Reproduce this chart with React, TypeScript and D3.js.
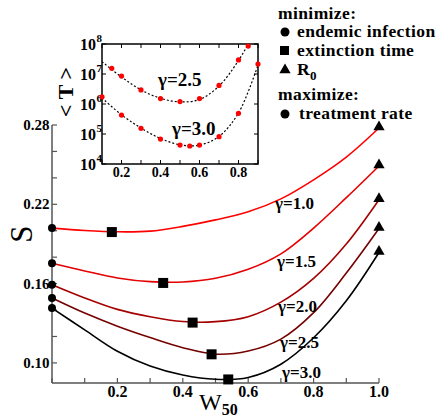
import React from "react";
import * as d3 from "d3";

// main panel: S versus W50 for several gamma
const W_GRID = [0, 0.1, 0.2, 0.3, 0.4, 0.5, 0.6, 0.7, 0.8, 0.9, 1.0];
const GAMMAS = ["1.0", "1.5", "2.0", "2.5", "3.0"];
const S_G10 = [0.202, 0.2002, 0.1992, 0.1997, 0.2033, 0.2082, 0.2143, 0.2241, 0.2385, 0.2557, 0.2777];
const S_G15 = [0.1754, 0.1696, 0.1643, 0.1615, 0.1612, 0.164, 0.1708, 0.1825, 0.202, 0.225, 0.249];
const S_G20 = [0.1592, 0.1492, 0.1405, 0.1349, 0.1313, 0.1312, 0.135, 0.146, 0.164, 0.19, 0.2235];
const S_G25 = [0.1491, 0.1377, 0.1278, 0.1192, 0.1115, 0.1066, 0.109, 0.118, 0.138, 0.168, 0.2017];
const S_G30 = [0.1415, 0.125, 0.1088, 0.0976, 0.0908, 0.0876, 0.089, 0.099, 0.119, 0.147, 0.1835];
const CURVE_COLORS = ["#ff0000", "#e60000", "#a50000", "#750000", "#000000"];
const MIN_W = [0.183, 0.34, 0.43, 0.488, 0.539];
const MIN_S = [0.199, 0.1605, 0.1305, 0.1065, 0.0875];

// inset: <T> versus W50 (log10 values)
const DOT_W_25 = [0.15, 0.2, 0.3, 0.4, 0.5, 0.6, 0.7, 0.8, 0.85];
const DOT_T_25 = [7.19, 6.93, 6.47, 6.18, 6.08, 6.18, 6.62, 7.47, 7.93];
const DOT_W_30 = [0.1, 0.2, 0.3, 0.4, 0.5, 0.55, 0.6, 0.7, 0.8, 0.9];
const DOT_T_30 = [6.24, 5.63, 5.19, 4.83, 4.63, 4.6, 4.63, 4.91, 5.69, 7.33];
const FIT_W = [0.1, 0.2, 0.3, 0.4, 0.5, 0.6, 0.7, 0.8, 0.9];
const FIT_T_25 = [7.41, 6.9, 6.47, 6.19, 6.07, 6.15, 6.6, 7.45, 8.6];
const FIT_T_30 = [6.2, 5.64, 5.2, 4.85, 4.64, 4.63, 4.92, 5.7, 7.3];

const X_TICK_LABELS = ["0.2", "0.4", "0.6", "0.8", "1.0"];
const Y_TICK_LABELS = ["0.10", "0.16", "0.22", "0.28"];
const INSET_X_LABELS = ["0.2", "0.4", "0.6", "0.8"];
const INSET_EXPONENTS = [4, 5, 6, 7, 8];

const FONT = "Liberation Serif, DejaVu Serif, serif";

export default function App() {
  const x = d3.scaleLinear().domain([0, 1]).range([52, 379]);
  const y = d3.scaleLinear().domain([0.0848, 0.28]).range([383, 125]);

  const ix = d3.scaleLinear().domain([0.1, 0.9]).range([102, 258]);
  const iy = d3.scaleLog().domain([1e4, 1e8]).range([164, 44]);

  const series = [S_G10, S_G15, S_G20, S_G25, S_G30];
  const line = d3
    .line<number>()
    .x((_, i) => x(W_GRID[i]))
    .y((d) => y(d))
    .curve(d3.curveCatmullRom);

  const insetLine = (ws: number[]) =>
    d3
      .line<number>()
      .x((_, i) => ix(ws[i]))
      .y((d) => iy(Math.pow(10, d)))
      .curve(d3.curveCatmullRom);

  const xTicks = d3.range(0, 11).map((i) => i / 10);
  const yTicks = d3.range(0, 10).map((i) => 0.1 + i * 0.02);
  const ixTicks = d3.range(1, 10).map((i) => i / 10);

  const labelY = [209, 266.5, 311.5, 348, 378];
  const labelX = [275, 277, 278, 280, 282];

  const tri = d3.symbol().type(d3.symbolTriangle).size(55)();
  const axisColor = "#555";

  return (
    <svg
      width={445}
      height={419}
      style={{ position: "absolute", left: 0, top: 0, fontFamily: FONT }}
    >
      {/* main axes */}
      <line x1={52} x2={52} y1={125} y2={383} stroke={axisColor} strokeWidth={1.5} />
      <line x1={52} x2={379} y1={383} y2={383} stroke={axisColor} strokeWidth={1.5} />
      {yTicks.map((t) => (
        <line key={"yt" + t} x1={52} x2={57} y1={y(t)} y2={y(t)} stroke={axisColor} strokeWidth={1.2} />
      ))}
      {xTicks.map((t) => (
        <line key={"xt" + t} x1={x(t)} x2={x(t)} y1={383} y2={378} stroke={axisColor} strokeWidth={1.2} />
      ))}
      {Y_TICK_LABELS.map((l) => (
        <text key={l} x={49.5} y={y(+l) + 5} textAnchor="end" fontSize={15} fontWeight="bold">
          {l}
        </text>
      ))}
      {X_TICK_LABELS.map((l) => (
        <text key={l} x={x(+l)} y={397} textAnchor="middle" fontSize={16} fontWeight="bold">
          {l}
        </text>
      ))}
      <text transform="translate(32,234) rotate(-90)" textAnchor="middle" fontSize={31}>
        S
      </text>
      <text x={199} y={410} fontSize={24}>
        W
        <tspan dy={5} fontSize={16} fontWeight="bold">50</tspan>
      </text>

      {/* curves */}
      {series.map((s, i) => (
        <path key={"c" + i} d={line(s) || ""} fill="none" stroke={CURVE_COLORS[i]} strokeWidth={1.6} />
      ))}
      {series.map((s, i) => (
        <circle key={"o" + i} cx={x(W_GRID[0])} cy={y(s[0])} r={4} fill="#000" />
      ))}
      {MIN_W.map((w, i) => (
        <rect key={"m" + i} x={x(w) - 5} y={y(MIN_S[i]) - 5} width={10} height={10} fill="#000" />
      ))}
      {series.map((s, i) => (
        <path
          key={"t" + i}
          d={tri || ""}
          transform={`translate(${x(W_GRID[W_GRID.length - 1])},${y(s[s.length - 1]) - 1})`}
          fill="#000"
        />
      ))}
      {GAMMAS.map((g, i) => (
        <text key={"g" + g} x={labelX[i]} y={labelY[i]} fontSize={17} fontWeight="bold">
          γ={g}
        </text>
      ))}

      {/* inset */}
      <defs>
        <clipPath id="insetClip">
          <rect x={102} y={44} width={156} height={120} />
        </clipPath>
      </defs>
      <rect x={102} y={44} width={156} height={120} fill="#fff" stroke="#000" strokeWidth={1.5} />
      {ixTicks.map((t) => (
        <g key={"ix" + t}>
          <line x1={ix(t)} x2={ix(t)} y1={164} y2={160} stroke="#000" />
          <line x1={ix(t)} x2={ix(t)} y1={44} y2={48} stroke="#000" />
        </g>
      ))}
      {INSET_EXPONENTS.map((e) => (
        <g key={"iy" + e}>
          <line x1={102} x2={106} y1={iy(Math.pow(10, e))} y2={iy(Math.pow(10, e))} stroke="#000" />
          <line x1={258} x2={254} y1={iy(Math.pow(10, e))} y2={iy(Math.pow(10, e))} stroke="#000" />
          <text x={96} y={iy(Math.pow(10, e)) + 6} textAnchor="end" fontSize={16} fontWeight="bold">
            10
          </text>
          <text x={96.5} y={iy(Math.pow(10, e)) - 2} fontSize={11} fontWeight="bold">
            {e}
          </text>
        </g>
      ))}
      {INSET_X_LABELS.map((l) => (
        <text key={"il" + l} x={ix(+l)} y={177} textAnchor="middle" fontSize={14} fontWeight="bold">
          {l}
        </text>
      ))}
      <text transform="translate(73,92) rotate(-90)" textAnchor="middle" fontSize={22} fontWeight="bold">
        {"<  T  >"}
      </text>
      <g clipPath="url(#insetClip)">
        <path d={insetLine(FIT_W)(FIT_T_25) || ""} fill="none" stroke="#000" strokeWidth={1.2} strokeDasharray="2,2" />
        <path d={insetLine(FIT_W)(FIT_T_30) || ""} fill="none" stroke="#000" strokeWidth={1.2} strokeDasharray="2,2" />
      </g>
      {DOT_W_25.map((w, i) => (
        <circle key={"d25" + i} cx={ix(w)} cy={iy(Math.pow(10, DOT_T_25[i]))} r={2.6} fill="#ff0000" />
      ))}
      {DOT_W_30.map((w, i) => (
        <circle key={"d30" + i} cx={ix(w)} cy={iy(Math.pow(10, DOT_T_30[i]))} r={2.6} fill="#ff0000" />
      ))}
      <text x={158} y={86} fontSize={19} fontWeight="bold">γ=2.5</text>
      <text x={172} y={135} fontSize={19} fontWeight="bold">γ=3.0</text>

      {/* legend */}
      <g fontSize={17.5} fontWeight="bold" letterSpacing={0.4}>
        <text x={278} y={19}>minimize:</text>
        <circle cx={285} cy={32} r={4.5} fill="#000" />
        <text x={297} y={37}>endemic infection</text>
        <rect x={280} y={46} width={9} height={9} fill="#000" />
        <text x={297} y={56}>extinction time</text>
        <path d={tri || ""} transform="translate(285,70)" fill="#000" />
        <text x={297} y={75}>
          R<tspan dy={5} fontSize={13}>0</tspan>
        </text>
        <text x={278} y={100}>maximize:</text>
        <circle cx={285} cy={114} r={4.5} fill="#000" />
        <text x={299} y={119}>treatment rate</text>
      </g>
    </svg>
  );
}
